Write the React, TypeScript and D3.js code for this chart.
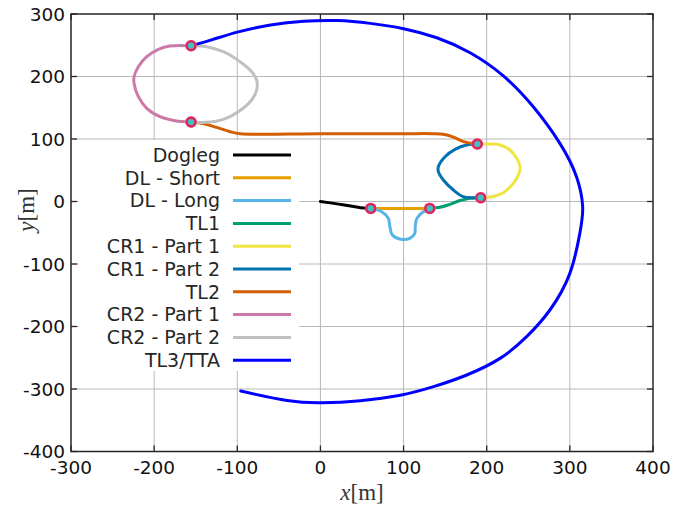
import React from "react";
import * as d3 from "d3";

const xTicks = [-300, -200, -100, 0, 100, 200, 300, 400];
const yTicks = [-400, -300, -200, -100, 0, 100, 200, 300];

const seriesNames = [
  "Dogleg", "DL - Short", "DL - Long", "TL1", "CR1 - Part 1",
  "CR1 - Part 2", "TL2", "CR2 - Part 1", "CR2 - Part 2", "TL3/TTA",
];
const seriesColors = [
  "#000000", "#E69F00", "#56B4E9", "#009E73", "#F0E442",
  "#0072B2", "#D55E00", "#CC79A7", "#C0C0C0", "#0000FF",
];

const doglegX = [0, 20, 40, 52, 60.5];
const doglegY = [0, -3.8, -8, -10.3, -11];
const dlShortX = [60.5, 131.5];
const dlShortY = [-11, -11];
const dlLongX = [60.5, 73.7, 81.7, 83.5, 86.5, 96.5, 107.5, 113.5, 114, 116, 123.7, 131.5];
const dlLongY = [-11, -16.3, -27, -40.3, -53.6, -60.5, -58.9, -50.9, -40.3, -27, -16.3, -11];
const tl1X = [131.5, 143.8, 155.9, 167.9, 179.9, 192.8];
const tl1Y = [-11, -9.3, -4.5, 1.5, 5, 6.1];
const cr1aX = [192.8, 206, 220, 232, 238.9, 240.1, 236.1, 228, 216, 204, 188.7];
const cr1aY = [6.1, 7.7, 14.1, 29.1, 45.1, 55.7, 69.1, 82.4, 90.4, 92, 92];
const cr1bX = [188.7, 176, 161.9, 149.9, 141.8, 141.8, 147.8, 159.9, 171.9, 186, 192.8];
const cr1bY = [92, 90.4, 83.5, 71.7, 55.7, 47.7, 34.4, 18.4, 7.7, 6.1, 6.1];
const tl2X = [188.7, 172, 159.9, 147.8, 135, 100, 0, -96.7, -108.7, -124.7, -140, -155.6];
const tl2Y = [92, 95.7, 103, 107.5, 108.5, 108.5, 108.5, 108.5, 111.7, 118.5, 124.5, 127.2];
const cr2aX = [-155.6, -174.9, -192.9, -208.9, -219, -224.2, -224.2, -219, -208.9, -194.9, -180.9, -155.6];
const cr2aY = [127.2, 129.3, 135.7, 149.1, 167.7, 189.1, 199.7, 215.7, 231.7, 243.5, 248.8, 249.3];
const cr2bX = [-155.6, -136.8, -116.8, -96.7, -82.7, -76.7, -76.7, -82.7, -98.7, -116.8, -136.8, -155.6];
const cr2bY = [249.3, 247.7, 239.7, 223.7, 207.7, 194.4, 178.4, 162.4, 143.7, 131.5, 126.7, 127.2];
const tl3X = [-155.6, -130, -100, -60, -20, 20, 60, 100, 140, 180, 220, 256, 288, 308, 315.4, 312, 300, 276, 248, 216, 176, 136, 96, 48, 2, -40, -95.9];
const tl3Y = [249.3, 259, 271, 282.5, 288.5, 289.5, 285, 276.5, 262, 238, 201, 151.5, 93, 39.7, -8.3, -51, -115, -173.6, -216.3, -251, -277.6, -296.3, -310, -318.7, -322, -318.5, -303.2];

const markerX = [60.5, 131.5, 192.8, 188.7, -155.6, -155.6];
const markerY = [-11, -11, 6.1, 92, 127.2, 249.3];

const seriesX = [doglegX, dlShortX, dlLongX, tl1X, cr1aX, cr1bX, tl2X, cr2aX, cr2bX, tl3X];
const seriesY = [doglegY, dlShortY, dlLongY, tl1Y, cr1aY, cr1bY, tl2Y, cr2aY, cr2bY, tl3Y];

const W = 688, H = 509;
const L = 71, R = 653, T = 14, B = 451.5;

export default function App() {
  const x = d3.scaleLinear().domain([-300, 400]).range([L, R]);
  const y = d3.scaleLinear().domain([-400, 300]).range([B, T]);
  const lineCR = d3.line<[number, number]>()
    .x((d) => x(d[0]))
    .y((d) => y(d[1]))
    .curve(d3.curveCatmullRom.alpha(0.5));
  const lineNat = d3.line<[number, number]>()
    .x((d) => x(d[0]))
    .y((d) => y(d[1]))
    .curve(d3.curveNatural);

  const font = "'DejaVu Sans', sans-serif";
  const tickLen = 6;
  const legX0 = 233, legX1 = 291, legTextX = 220, legY0 = 155, legDy = 22.8;

  return (
    <svg width={W} height={H} style={{ position: "absolute", left: 0, top: 0, background: "#fff" }}>
      <rect x={0} y={0} width={W} height={H} fill="#fff" />
      {xTicks.slice(1, -1).map((t) => (
        <line key={"gx" + t} x1={x(t)} x2={x(t)} y1={T} y2={B} stroke="#b8b8b8" strokeWidth={1} />
      ))}
      {yTicks.slice(1, -1).map((t) => (
        <line key={"gy" + t} x1={L} x2={R} y1={y(t)} y2={y(t)} stroke="#b8b8b8" strokeWidth={1} />
      ))}
      {seriesX.map((xs, i) => {
        const pts = xs.map((v, j) => [v, seriesY[i][j]] as [number, number]);
        const gen = i === 9 ? lineNat : lineCR;
        return (
          <path
            key={"s" + i}
            d={gen(pts) || ""}
            fill="none"
            stroke={seriesColors[i]}
            strokeWidth={3}
            strokeLinejoin="round"
            strokeLinecap="round"
          />
        );
      })}
      {markerX.map((mx, i) => (
        <g key={"m" + i}>
          <circle cx={x(mx)} cy={y(markerY[i])} r={6} fill="#f7b3c6" opacity={0.6} />
          <circle cx={x(mx)} cy={y(markerY[i])} r={4.4} fill="#3fc4c4" stroke="#e0245e" strokeWidth={2.6} />
        </g>
      ))}
      <rect x={79} y={140} width={220} height={231} fill="#fff" />
      {seriesNames.map((n, i) => (
        <g key={"l" + i}>
          <text x={legTextX} y={legY0 + i * legDy} dy="0.36em" textAnchor="end"
            fontFamily={font} fontSize={19} fill="#262626">{n}</text>
          <line x1={legX0} x2={legX1} y1={legY0 + i * legDy} y2={legY0 + i * legDy}
            stroke={seriesColors[i]} strokeWidth={3} />
        </g>
      ))}
      <rect x={L} y={T} width={R - L} height={B - T} fill="none" stroke="#262626" strokeWidth={1.5} />
      {xTicks.map((t) => (
        <g key={"tx" + t}>
          <line x1={x(t)} x2={x(t)} y1={B} y2={B - tickLen} stroke="#262626" strokeWidth={1.3} />
          <line x1={x(t)} x2={x(t)} y1={T} y2={T + tickLen} stroke="#262626" strokeWidth={1.3} />
          <text x={x(t)} y={B + 16} dy="0.36em" textAnchor="middle" fontFamily={font} fontSize={18.5} fill="#111">{t}</text>
        </g>
      ))}
      {yTicks.map((t) => (
        <g key={"ty" + t}>
          <line x1={L} x2={L + tickLen} y1={y(t)} y2={y(t)} stroke="#262626" strokeWidth={1.3} />
          <line x1={R} x2={R - tickLen} y1={y(t)} y2={y(t)} stroke="#262626" strokeWidth={1.3} />
          <text x={L - 6} y={y(t)} dy="0.36em" textAnchor="end" fontFamily={font} fontSize={18.5} fill="#111">{t}</text>
        </g>
      ))}
      <text x={362} y={500} textAnchor="middle" fontFamily="'Liberation Serif', 'DejaVu Serif', serif" fontSize={23} fill="#333">
        <tspan fontStyle="italic">x</tspan>[m]
      </text>
      <text transform={`translate(34,210) rotate(-90)`} textAnchor="middle" fontFamily="'Liberation Serif', 'DejaVu Serif', serif" fontSize={23} fill="#333">
        <tspan fontStyle="italic">y</tspan>[m]
      </text>
    </svg>
  );
}
